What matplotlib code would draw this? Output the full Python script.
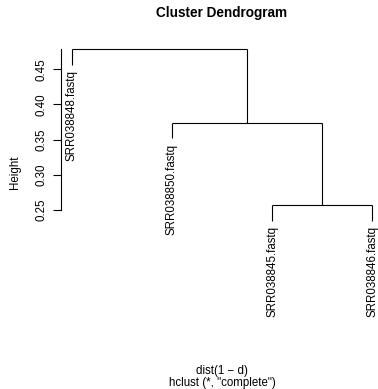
import matplotlib
matplotlib.use("Agg")
import matplotlib.pyplot as plt

plt.rcParams['font.family'] = ['Liberation Sans', 'DejaVu Sans']

# Data
leaf_labels = ["SRR038848.fastq", "SRR038850.fastq", "SRR038845.fastq", "SRR038846.fastq"]
# merges: (left child, right child, height); negative = leaf index (1-based), positive = merge index
merge_left = [-3, -2, -1]
merge_right = [-4, 1, 2]
merge_heights = [0.257, 0.374, 0.479]
yticks = [0.25, 0.30, 0.35, 0.40, 0.45]
ytick_labels = ["0.25", "0.30", "0.35", "0.40", "0.45"]

W, H = 378, 389
fig = plt.figure(figsize=(W / 100, H / 100), dpi=100)

def px2v(py):
    return 0.45 - (py - 69.3) / 703.5

ax_top_px, ax_bot_px = 40, 240
ax = fig.add_axes([61 / W, (H - ax_bot_px) / H, (W - 61) / W, (ax_bot_px - ax_top_px) / H])
ax.set_xlim(0.89, 4.06)
ax.set_ylim(px2v(ax_bot_px), px2v(ax_top_px))

hang = 0.1 * (max(merge_heights) - min(merge_heights))
lw = 0.8

node_x = {}
node_h = {}

def child_pos(c):
    if c < 0:
        return float(-c), None
    return node_x[c], node_h[c]

for i, (l, r, h) in enumerate(zip(merge_left, merge_right, merge_heights), start=1):
    xs = []
    for c in (l, r):
        cx, ch = child_pos(c)
        if ch is None:
            bottom = h - hang
            ax.plot([cx, cx], [bottom, h], color='black', lw=lw, clip_on=False, solid_capstyle='butt')
            ax.annotate(leaf_labels[-c - 1], xy=(cx, bottom), xytext=(0, -4),
                        textcoords='offset points', rotation=90, ha='center', va='top',
                        fontsize=8.3, annotation_clip=False)
        else:
            ax.plot([cx, cx], [ch, h], color='black', lw=lw, clip_on=False, solid_capstyle='butt')
        xs.append(cx)
    ax.plot([xs[0], xs[1]], [h, h], color='black', lw=lw, clip_on=False, solid_capstyle='butt')
    node_x[i] = (xs[0] + xs[1]) / 2
    node_h[i] = h

for s in ['top', 'right', 'bottom']:
    ax.spines[s].set_visible(False)
ax.spines['left'].set_bounds(min(yticks), max(merge_heights))
ax.spines['left'].set_linewidth(lw)
ax.set_xticks([])
ax.set_yticks(yticks)
ax.set_yticklabels(ytick_labels, rotation=90, va='center')
ax.tick_params(axis='y', length=6, width=lw, pad=3.5, labelsize=8.3)
ax.patch.set_visible(False)

fig.text(15 / W, 1 - 172 / H, "Height", rotation=90, ha='center', va='center', fontsize=8.3)
fig.text(222 / W, 1 - 13 / H, "Cluster Dendrogram", ha='center', va='center',
         fontsize=9.8, fontweight='bold')
fig.text(222 / W, 1 - 371 / H, "dist(1 \u2212 d)", ha='center', va='center', fontsize=8.3)
fig.text(222 / W, 1 - 383 / H, "hclust (*, \"complete\")", ha='center', va='center', fontsize=8.3)

fig.savefig("out.png", dpi=100)
